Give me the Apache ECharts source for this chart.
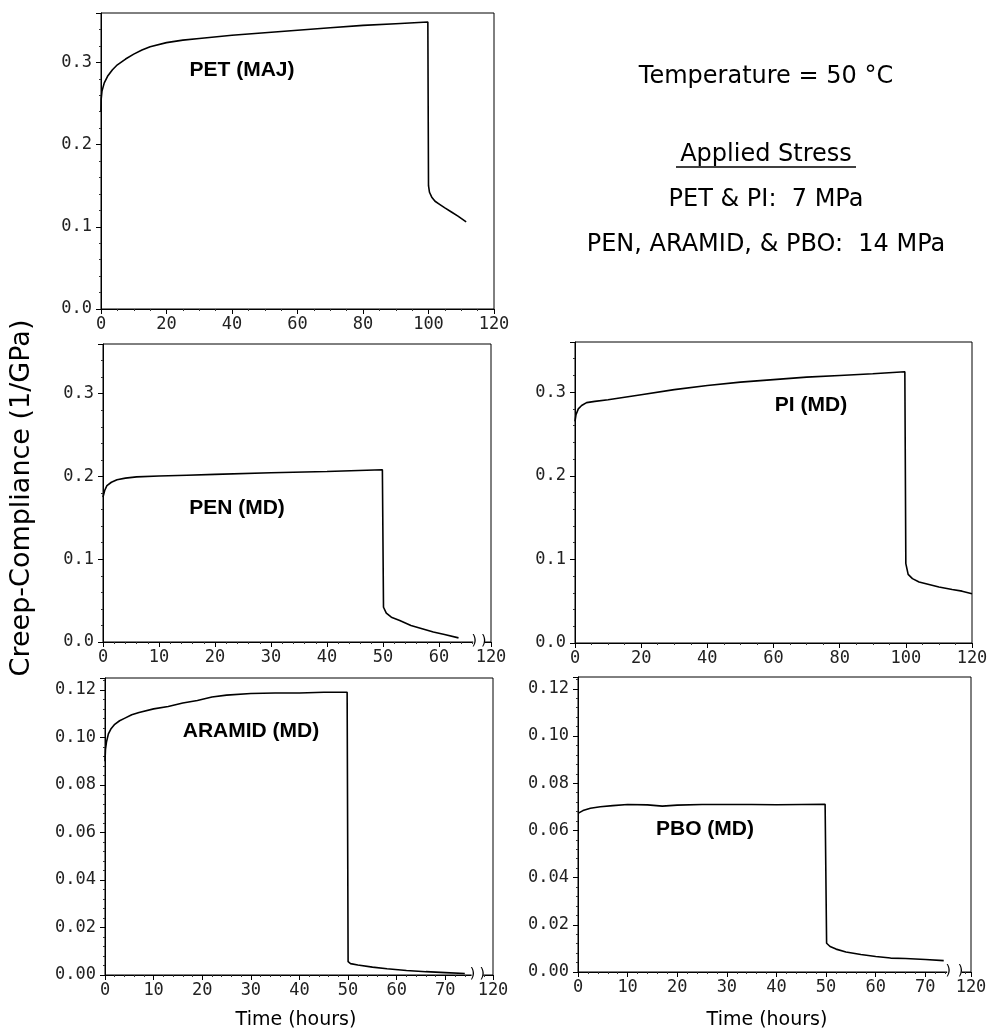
<!DOCTYPE html>
<html>
<head>
<meta charset="utf-8">
<title>Creep-Compliance at 50 °C</title>
<script src="https://cdn.jsdelivr.net/npm/echarts@6.0.0/dist/echarts.min.js"></script>
<style>
	html, body { margin: 0; padding: 0; background: #fff; }
	#main { width: 992px; height: 1029px; }
</style>
</head>
<body>
<div id="main"></div>
<script>
// time (hours) / creep-compliance (1/GPa)
var petTime = [0, 0.05, 0.3, 1, 2, 3.5, 5, 7.5, 10, 12.5, 15, 20, 25, 30, 40, 50, 60, 70, 80, 90, 99.8, 100, 100.3, 101, 102, 103.5, 105, 107, 109, 111.5];
var petComp = [0.240, 0.255, 0.265, 0.275, 0.283, 0.291, 0.297, 0.304, 0.310, 0.315, 0.319, 0.324, 0.327, 0.329, 0.333, 0.336, 0.339, 0.342, 0.345, 0.347, 0.349, 0.150, 0.142, 0.136, 0.131, 0.127, 0.123, 0.118, 0.113, 0.106];

var penTime = [0, 0.3, 0.7, 1.5, 2.5, 4, 6, 10, 15, 20, 30, 40, 49.9, 50.1, 50.6, 51.5, 53, 55, 57, 59, 61, 63.5];
var penComp = [0.175, 0.183, 0.189, 0.193, 0.196, 0.198, 0.1995, 0.2005, 0.2015, 0.2025, 0.2045, 0.206, 0.208, 0.042, 0.035, 0.030, 0.026, 0.020, 0.016, 0.012, 0.009, 0.005];

var piTime = [0, 0.3, 1, 2, 3.5, 6, 10, 15, 20, 30, 40, 50, 60, 70, 80, 90, 99.7, 100, 100.7, 102, 104, 107, 110, 114, 117, 120];
var piComp = [0.265, 0.273, 0.280, 0.284, 0.2875, 0.289, 0.291, 0.294, 0.297, 0.303, 0.308, 0.312, 0.315, 0.318, 0.320, 0.322, 0.3245, 0.095, 0.082, 0.077, 0.073, 0.070, 0.067, 0.064, 0.062, 0.059];

var aramidTime = [0, 0.1, 0.3, 0.7, 1.2, 2, 3, 4, 5.5, 7, 10, 13, 16, 19, 22, 25, 30, 35, 40, 45, 49.8, 50, 50.5, 52, 55, 58, 62, 66, 70, 74];
var aramidComp = [0.090, 0.095, 0.098, 0.1015, 0.1035, 0.1055, 0.107, 0.108, 0.1095, 0.1105, 0.112, 0.113, 0.1145, 0.1155, 0.117, 0.1178, 0.1185, 0.1187, 0.1187, 0.119, 0.119, 0.0056, 0.0048, 0.0042, 0.0033, 0.0026, 0.0019, 0.0014, 0.0010, 0.0006];

var pboTime = [0, 1, 2.5, 4.5, 7, 10, 14, 17, 20, 25, 30, 35, 40, 45, 49.8, 50.1, 50.8, 52, 54, 57, 60, 63, 66, 70, 73.7];
var pboComp = [0.0672, 0.0684, 0.0694, 0.0700, 0.0705, 0.0710, 0.0708, 0.0703, 0.0707, 0.0710, 0.0710, 0.0710, 0.0709, 0.0710, 0.0711, 0.0122, 0.0108, 0.0097, 0.0085, 0.0074, 0.0066, 0.0059, 0.0057, 0.0053, 0.0048];

var panelNames = ["PET (MAJ)", "PEN (MD)", "PI (MD)", "ARAMID (MD)", "PBO (MD)"];

// axis ends; the broken axes (PEN, ARAMID, PBO) end in a "120" tick after the break
var xMax = [120, 69.3, 120, 79.8, 79.2];
var xStep = [20, 10, 20, 10, 10];
var brokenAxis = [false, true, false, true, true];
var breakEndLabel = "120";
var breakMarks = [null, [66.3, 68], null, [75.6, 77.6], [74.6, 77.1]];
var yMax = [0.36, 0.36, 0.36, 0.125, 0.125];
var yStep = [0.1, 0.1, 0.1, 0.02, 0.02];
var yDigits = [1, 1, 1, 2, 2];

var infoLines = ["Temperature = 50 °C", "Applied Stress", "PET & PI:  7 MPa", "PEN, ARAMID, & PBO:  14 MPa"];
var yTitle = "Creep-Compliance (1/GPa)";
var xTitle = "Time (hours)";

var myChart = echarts.init(document.getElementById('main'));

var grids = [
	{ left: 101, top: 13, width: 393, height: 296 },
	{ left: 103, top: 344, width: 388, height: 298 },
	{ left: 575, top: 342, width: 397, height: 301 },
	{ left: 105, top: 678, width: 388, height: 297 },
	{ left: 578, top: 677, width: 393, height: 295 }
];
var labelPos = [[242, 70], [237, 508], [811, 405], [251, 731], [705, 829]];
var allData = [[petTime, petComp], [penTime, penComp], [piTime, piComp], [aramidTime, aramidComp], [pboTime, pboComp]];

function pairs(t, c) {
	return t.map(function(x, i) { return [x, c[i]]; });
}

var tickFont = '"DejaVu Sans Mono", monospace';

var xAxes = [], yAxes = [], series = [], gridList = [];
for (var i = 0; i < 5; i++) {
	gridList.push({
		left: grids[i].left, top: grids[i].top, width: grids[i].width, height: grids[i].height,
		show: true, borderColor: '#000', borderWidth: 1, backgroundColor: 'transparent'
	});
	(function(i) {
		xAxes.push({
			type: 'value', gridIndex: i, min: 0, max: xMax[i], interval: xStep[i],
			axisLine: { show: true, onZero: false, lineStyle: { color: '#000', width: 1 } },
			axisTick: { show: true, length: 5, lineStyle: { color: '#000' } },
			minorTick: { show: true, splitNumber: xStep[i] == 20 ? 4 : 5, length: 2, lineStyle: { color: '#333' } },
			splitLine: { show: false },
			axisLabel: {
				margin: 7, color: '#222', fontFamily: tickFont, fontSize: 17,
				showMaxLabel: true,
				formatter: function(v) {
					if (brokenAxis[i] && Math.abs(v - xMax[i]) < 0.01) return breakEndLabel;
					return String(v);
				}
			}
		});
		yAxes.push({
			type: 'value', gridIndex: i, min: 0, max: yMax[i], interval: yStep[i],
			axisLine: { show: true, onZero: false, lineStyle: { color: '#000', width: 1 } },
			axisTick: { show: true, length: 5, lineStyle: { color: '#000' } },
			minorTick: { show: true, splitNumber: 5, length: 2, lineStyle: { color: '#333' } },
			splitLine: { show: false },
			axisLabel: {
				margin: 9, color: '#222', fontFamily: tickFont, fontSize: 17,
				showMaxLabel: false,
				formatter: function(v) { return v.toFixed(yDigits[i]); }
			}
		});
	})(i);
	series.push({
		type: 'line', xAxisIndex: i, yAxisIndex: i,
		data: pairs(allData[i][0], allData[i][1]),
		showSymbol: false, symbol: 'none', animation: false,
		lineStyle: { color: '#000', width: 1.6 }
	});
}

var graphics = [];
for (var k = 0; k < 5; k++) {
	graphics.push({
		type: 'text', x: labelPos[k][0], y: labelPos[k][1],
		style: {
			text: panelNames[k], fill: '#000', textAlign: 'center', textVerticalAlign: 'middle',
			font: 'bold 21px "Liberation Sans", Arial, sans-serif'
		}
	});
}
var infoY = [77, 155, 200, 245];
var infoFont = '24px "DejaVu Sans", sans-serif';
for (var j = 0; j < infoLines.length; j++) {
	graphics.push({
		type: 'text', x: 766, y: infoY[j],
		style: { text: infoLines[j], fill: '#000', textAlign: 'center', textVerticalAlign: 'middle', font: infoFont }
	});
}
// underline of "Applied Stress"
graphics.push({ type: 'line', shape: { x1: 676, y1: 167, x2: 856, y2: 167 }, style: { stroke: '#000', lineWidth: 1.5 } });
graphics.push({
	type: 'text', x: 22, y: 498, rotation: Math.PI / 2,
	style: { text: yTitle, fill: '#000', textAlign: 'center', textVerticalAlign: 'middle', font: '27px "DejaVu Sans", sans-serif' }
});
graphics.push({
	type: 'text', x: 296, y: 1020,
	style: { text: xTitle, fill: '#000', textAlign: 'center', textVerticalAlign: 'middle', font: '19px "DejaVu Sans", sans-serif' }
});
graphics.push({
	type: 'text', x: 767, y: 1020,
	style: { text: xTitle, fill: '#000', textAlign: 'center', textVerticalAlign: 'middle', font: '19px "DejaVu Sans", sans-serif' }
});

var option = {
	animation: false,
	backgroundColor: '#fff',
	grid: gridList,
	xAxis: xAxes,
	yAxis: yAxes,
	series: series,
	graphic: graphics
};
myChart.setOption(option);

// break marks on the broken time axes
var marks = [];
for (var b = 0; b < 5; b++) {
	if (!breakMarks[b]) continue;
	var p1 = myChart.convertToPixel({ xAxisIndex: b, yAxisIndex: b }, [breakMarks[b][0], 0]);
	var p2 = myChart.convertToPixel({ xAxisIndex: b, yAxisIndex: b }, [breakMarks[b][1], 0]);
	marks.push({ type: 'rect', shape: { x: p1[0] - 1, y: p1[1] - 4, width: p2[0] - p1[0] + 2, height: 8 }, style: { fill: '#fff' }, z: 100 });
	marks.push({ type: 'text', x: p1[0], y: p1[1] - 1, z: 101, style: { text: ')', fill: '#000', textAlign: 'center', textVerticalAlign: 'middle', font: '14px "DejaVu Sans", sans-serif' } });
	marks.push({ type: 'text', x: p2[0], y: p2[1] - 1, z: 101, style: { text: ')', fill: '#000', textAlign: 'center', textVerticalAlign: 'middle', font: '14px "DejaVu Sans", sans-serif' } });
}
myChart.setOption({ graphic: graphics.concat(marks) });
</script>
</body>
</html>
